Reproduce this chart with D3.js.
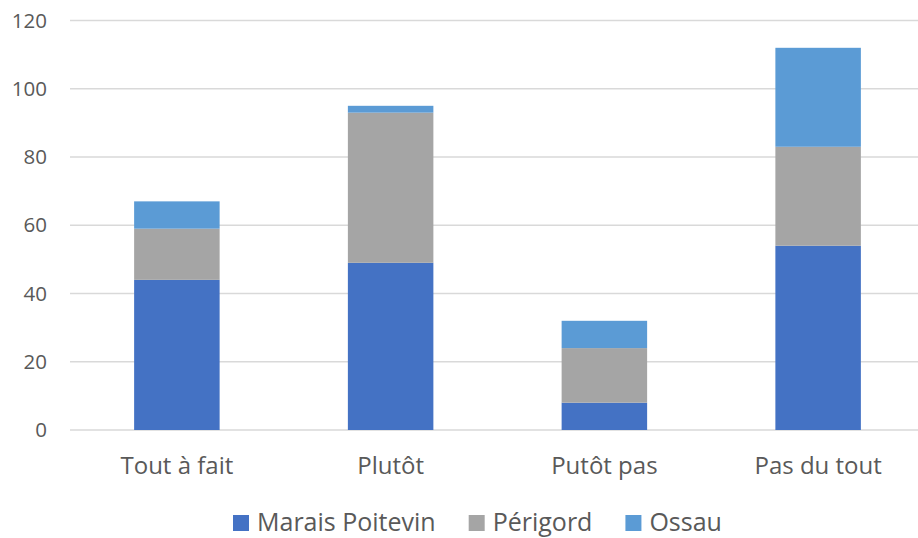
<!DOCTYPE html>
<html>
<head>
<meta charset="utf-8">
<script src="https://cdn.jsdelivr.net/npm/d3@7"></script>
<style>
  body { margin: 0; background: #fff; }
  svg { display: block; font-family: "Open Sans", sans-serif; }
</style>
</head>
<body>
<svg id="chart" width="918" height="538"></svg>
<script>
// categories and series
var categories = ["Tout à fait", "Plutôt", "Putôt pas", "Pas du tout"];
var seriesNames = ["Marais Poitevin", "Périgord", "Ossau"];
var maraisPoitevin = [44, 49, 8, 54];
var perigord = [15, 44, 16, 29];
var ossau = [8, 2, 8, 29];
var yTicks = [0, 20, 40, 60, 80, 100, 120];
var colors = ["#4472C4", "#A5A5A5", "#5B9BD5"];

var rows = categories.map(function (c, i) {
    return { cat: c, "Marais Poitevin": maraisPoitevin[i], "Périgord": perigord[i], "Ossau": ossau[i] };
});

var svg = d3.select("#chart");
var width = 918, height = 538;
var margin = { left: 70, right: -7, top: 20.5, bottom: 108 };

var x = d3.scaleBand()
    .domain(categories)
    .range([margin.left, width - margin.right])
    .paddingInner(0.6)
    .paddingOuter(0.3);

var y = d3.scaleLinear()
    .domain([0, 120])
    .range([height - margin.bottom, margin.top]);

var color = d3.scaleOrdinal().domain(seriesNames).range(colors);

// gridlines
svg.append("g")
    .selectAll("line")
    .data(yTicks)
    .enter().append("line")
    .attr("x1", margin.left)
    .attr("x2", width)
    .attr("y1", d => y(d))
    .attr("y2", d => y(d))
    .attr("stroke", "#D9D9D9")
    .attr("stroke-width", 1.3);

// y tick labels
svg.append("g")
    .selectAll("text")
    .data(yTicks)
    .enter().append("text")
    .attr("x", 47)
    .attr("y", d => y(d))
    .attr("dy", "0.35em")
    .attr("text-anchor", "end")
    .attr("fill", "#595959")
    .style("font-size", "20.5px")
    .text(d => d);

// stacked bars
var stacked = d3.stack().keys(seriesNames)(rows);

svg.append("g")
    .selectAll("g")
    .data(stacked)
    .enter().append("g")
    .attr("fill", d => color(d.key))
    .selectAll("rect")
    .data(d => d)
    .enter().append("rect")
    .attr("x", d => x(d.data.cat))
    .attr("width", x.bandwidth())
    .attr("y", d => y(d[1]))
    .attr("height", d => y(d[0]) - y(d[1]));

// category labels
svg.append("g")
    .selectAll("text")
    .data(categories)
    .enter().append("text")
    .attr("x", d => x(d) + x.bandwidth() / 2)
    .attr("y", 474)
    .attr("text-anchor", "middle")
    .attr("fill", "#595959")
    .style("font-size", "24px")
    .text(d => d);

// legend (kept just inside the bottom edge)
var legend = svg.append("g");
var lx = 233;
seriesNames.forEach(function (name) {
    legend.append("rect")
        .attr("x", lx)
        .attr("y", 515)
        .attr("width", 16)
        .attr("height", 16)
        .attr("fill", color(name));
    var t = legend.append("text")
        .attr("x", lx + 24)
        .attr("y", 531)
        .attr("fill", "#595959")
        .style("font-size", "25px")
        .text(name);
    lx += 24 + t.node().getComputedTextLength() + 33;
});
</script>
</body>
</html>
